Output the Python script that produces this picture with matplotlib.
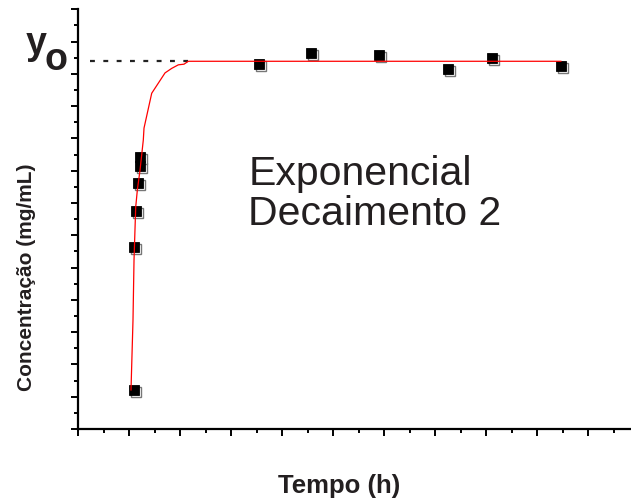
import matplotlib
matplotlib.use("Agg")
import matplotlib.pyplot as plt
from matplotlib import transforms
from matplotlib.ticker import MultipleLocator, NullFormatter

plt.rcParams['font.family'] = ['Liberation Sans', 'DejaVu Sans']

# measured points (tempo, concentracao)
tempo = [10.88, 10.98, 11.31, 11.82, 12.06, 12.16, 35.43, 45.63, 58.96, 72.55, 81.18, 94.65]
conc = [1.21, 5.64, 6.75, 7.61, 8.14, 8.42, 11.32, 11.65, 11.59, 11.15, 11.49, 11.24]

# fitted curve (exponential decay 2)
fit_t = [10.39, 10.78, 10.98, 11.31, 11.63, 12.16, 12.80, 12.94, 14.45, 17.06,
         18.37, 19.67, 20.78, 21.63, 94.65]
fit_c = [1.21, 3.37, 5.23, 6.87, 7.40, 8.02, 8.95, 9.32, 10.40, 11.03,
         11.17, 11.28, 11.30, 11.39, 11.39]

y0 = 11.39
y0_start = 2.35

W, H = 631, 499
fig = plt.figure(figsize=(W / 100, H / 100), dpi=100)
left, bottom, top = 78, 429, 9.3
ax = fig.add_axes([left / W, (H - bottom) / H, 1 - left / W, (bottom - top) / H])

# shadow squares behind the black markers
shadow = transforms.offset_copy(ax.transData, fig=fig, x=2, y=-2, units='dots')
ax.plot(tempo, conc, 's', ms=7.6, mfc='white', mec='#777777', mew=1.0,
        transform=shadow, zorder=3)
ax.plot(tempo, conc, 's', ms=7.6, mfc='black', mec='black', mew=0.6, zorder=4)

ax.plot(fit_t, fit_c, color='red', lw=0.9, zorder=5)
ax.plot([y0_start, fit_t[-2]], [y0, y0], color='#222222', lw=1.6,
        dashes=(2.2, 3.8), zorder=2)

ax.set_xlim(0, 108.4)
ax.set_ylim(0, 13)
ax.xaxis.set_major_locator(MultipleLocator(10))
ax.xaxis.set_minor_locator(MultipleLocator(5))
ax.yaxis.set_major_locator(MultipleLocator(1))
ax.yaxis.set_minor_locator(MultipleLocator(0.5))
ax.xaxis.set_major_formatter(NullFormatter())
ax.yaxis.set_major_formatter(NullFormatter())
ax.tick_params(which='major', direction='out', length=5, width=1.4)
ax.tick_params(which='minor', direction='out', length=3, width=1.4)
ax.spines['top'].set_visible(False)
ax.spines['right'].set_visible(False)
for s in ('left', 'bottom'):
    ax.spines[s].set_linewidth(1.6)

ax.text(0.308, 0.56, 'Exponencial\nDecaimento 2', transform=ax.transAxes,
        fontsize=29.5, color='#231f20', linespacing=1.05, va='center', ha='left')

fig.text(26 / W, 1 - 54.5 / H, 'y', fontsize=27, fontweight='bold', color='#231f20',
         va='baseline', ha='left')
fig.text(44 / W, 1 - 70 / H, 'o', fontsize=27, fontweight='bold', color='#231f20',
         va='baseline', ha='left')

fig.text(339 / W, 1 - 486 / H, 'Tempo (h)', fontsize=18.5, fontweight='bold',
         color='#231f20', ha='center', va='center')
fig.text(27 / W, 1 - 277 / H, 'Concentração (mg/mL)', fontsize=15, fontweight='bold',
         color='#231f20', ha='center', va='center', rotation=90)

fig.savefig('out.png', dpi=100)
